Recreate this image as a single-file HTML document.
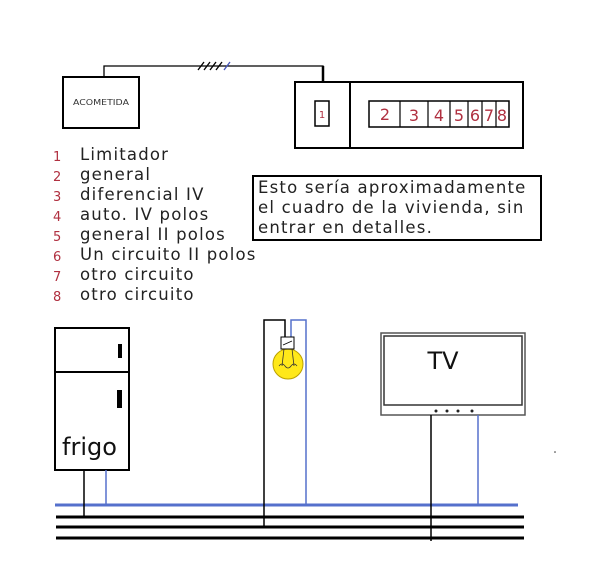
<!DOCTYPE html>
<html><head><style>
body{margin:0;background:#fff;}
svg text{font-family:"DejaVu Sans","Liberation Sans",sans-serif;}
</style></head><body>
<svg width="600" height="575" viewBox="0 0 600 575" xmlns="http://www.w3.org/2000/svg">
<rect width="600" height="575" fill="#fff"/>
<!-- top -->
<rect x="63" y="77" width="76" height="51" fill="none" stroke="#000" stroke-width="2"/>
<text x="101" y="105" font-size="8" text-anchor="middle" fill="#333" textLength="56" lengthAdjust="spacingAndGlyphs">ACOMETIDA</text>
<polyline points="104,77 104,66 323,66 323,82" fill="none" stroke="#000" stroke-width="1.3"/>
<line x1="323" y1="66" x2="323" y2="82" stroke="#000" stroke-width="2.5"/>
<g stroke="#000" stroke-width="1.3"><line x1="198" y1="70" x2="204" y2="62"/><line x1="204" y1="70" x2="210" y2="62"/><line x1="210" y1="70" x2="216" y2="62"/><line x1="216" y1="70" x2="222" y2="62"/></g>
<line x1="224" y1="70" x2="230" y2="62" stroke="#4455bb" stroke-width="1.3"/>
<rect x="295" y="82" width="228" height="66" fill="none" stroke="#000" stroke-width="2"/>
<line x1="350" y1="82" x2="350" y2="148" stroke="#000" stroke-width="2"/>
<rect x="315" y="101" width="14" height="25" fill="none" stroke="#000" stroke-width="1.5"/>
<text x="322" y="118" font-size="10" text-anchor="middle" fill="#b03040">1</text>
<rect x="369" y="101" width="140" height="26" fill="none" stroke="#000" stroke-width="1.5"/>
<g stroke="#000" stroke-width="1.2"><line x1="400" y1="101" x2="400" y2="127"/><line x1="428" y1="101" x2="428" y2="127"/><line x1="450" y1="101" x2="450" y2="127"/><line x1="468" y1="101" x2="468" y2="127"/><line x1="482" y1="101" x2="482" y2="127"/><line x1="496" y1="101" x2="496" y2="127"/></g>
<g font-size="16" fill="#b03040" text-anchor="middle"><text x="385" y="120">2</text><text x="414" y="121">3</text><text x="439" y="121">4</text><text x="459" y="121">5</text><text x="475" y="121">6</text><text x="489" y="121">7</text><text x="502" y="121">8</text></g>
<!-- legend -->
<g font-size="13" fill="#b03040"><text x="53" y="161">1</text><text x="53" y="181">2</text><text x="53" y="201">3</text><text x="53" y="221">4</text><text x="53" y="241">5</text><text x="53" y="261">6</text><text x="53" y="281">7</text><text x="53" y="301">8</text></g>
<g font-size="16.5" fill="#222" letter-spacing="1.2"><text x="80" y="160">Limitador</text><text x="80" y="180">general</text><text x="80" y="200">diferencial IV</text><text x="80" y="220">auto. IV polos</text><text x="80" y="240">general II polos</text><text x="80" y="260">Un circuito II polos</text><text x="80" y="280">otro circuito</text><text x="80" y="300">otro circuito</text></g>
<rect x="253" y="176" width="288" height="64" fill="none" stroke="#000" stroke-width="2"/>
<g font-size="16.5" fill="#222" letter-spacing="1.2"><text x="258" y="193">Esto sería aproximadamente</text><text x="258" y="213">el cuadro de la vivienda, sin</text><text x="258" y="233">entrar en detalles.</text></g>
<!-- bottom lines -->
<line x1="55" y1="505" x2="518" y2="505" stroke="#5570cc" stroke-width="3"/>
<g stroke="#000" stroke-width="3"><line x1="56" y1="517" x2="524" y2="517"/><line x1="56" y1="527" x2="524" y2="527"/><line x1="56" y1="538" x2="524" y2="538"/></g>
<!-- frigo -->
<rect x="55" y="328" width="74" height="142" fill="none" stroke="#000" stroke-width="2"/>
<line x1="55" y1="372" x2="129" y2="372" stroke="#000" stroke-width="2"/>
<rect x="118" y="344" width="4" height="14" fill="#000"/>
<rect x="117" y="390" width="5" height="18" fill="#000"/>
<text x="62" y="455" font-size="24" fill="#111" font-family="Liberation Sans, sans-serif">frigo</text>
<line x1="84" y1="470" x2="84" y2="518" stroke="#000" stroke-width="1.5"/>
<line x1="106" y1="470" x2="106" y2="505" stroke="#5570cc" stroke-width="1.5"/>
<!-- lamp -->
<polyline points="264,528 264,320 285,320 285,337" fill="none" stroke="#000" stroke-width="1.5"/>
<polyline points="306,505 306,320 291,320 291,337" fill="none" stroke="#5570cc" stroke-width="1.5"/>
<circle cx="288" cy="364" r="15" fill="#ffe81a" stroke="#bba000" stroke-width="1"/>
<rect x="281" y="337" width="13" height="12" fill="#fff" stroke="#000" stroke-width="1"/>
<line x1="283" y1="345" x2="292" y2="341" stroke="#000" stroke-width="0.8"/>
<g stroke="#333" stroke-width="0.8" fill="none"><line x1="284" y1="349" x2="282" y2="366"/><line x1="292" y1="349" x2="294" y2="366"/><path d="M279 366 q3 -4 6 0 q3 4 6 0 q3 -4 6 0"/></g>
<!-- TV -->
<rect x="381" y="333" width="144" height="82" fill="none" stroke="#555" stroke-width="1.5"/>
<rect x="384" y="336" width="138" height="69" fill="none" stroke="#333" stroke-width="1.5"/>
<g fill="#222"><circle cx="436" cy="411" r="1.5"/><circle cx="447" cy="411" r="1.5"/><circle cx="458" cy="411" r="1.5"/><circle cx="472" cy="411" r="1.5"/></g>
<text x="443" y="369" font-size="24" text-anchor="middle" fill="#111" font-family="Liberation Sans, sans-serif">TV</text>
<line x1="431" y1="415" x2="431" y2="541" stroke="#000" stroke-width="1.5"/>
<line x1="478" y1="415" x2="478" y2="505" stroke="#5570cc" stroke-width="1.5"/>
<circle cx="555" cy="452" r="0.8" fill="#333"/>
</svg>
</body></html>
